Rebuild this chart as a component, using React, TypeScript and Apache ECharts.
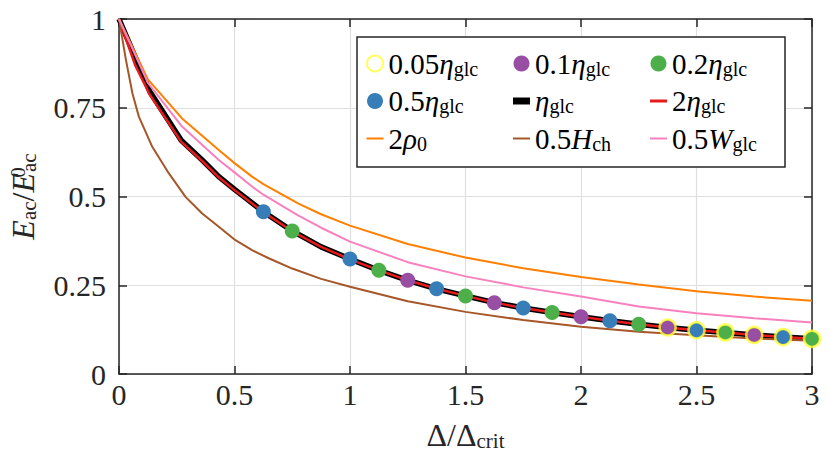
import React, { useEffect, useRef } from "react";
import * as echarts from "echarts";

// ---------- data ----------
const xTicks = { min: 0, max: 3, interval: 0.5 };
const yTicks = { min: 0, max: 1, interval: 0.25 };

const blackX = [0, 0.134, 0.27, 0.36, 0.432, 0.5, 0.625, 0.75, 0.875, 1, 1.125, 1.25, 1.375, 1.5, 1.625, 1.75, 1.875, 2, 2.125, 2.25, 2.375, 2.5, 2.625, 2.75, 2.875, 3];
const blackY = [1, 0.795, 0.658, 0.603, 0.556, 0.52, 0.457, 0.403, 0.358, 0.324, 0.292, 0.264, 0.24, 0.22, 0.201, 0.186, 0.173, 0.161, 0.15, 0.14, 0.131, 0.123, 0.117, 0.11, 0.104, 0.099];

const redX = [0, 0.07, 0.134, 0.27, 0.36, 0.432, 0.5, 0.625, 0.75, 0.875, 1, 1.125, 1.25, 1.375, 1.5, 1.625, 1.75, 1.875, 2, 2.125, 2.25, 2.375, 2.5, 2.625, 2.75, 2.875, 3];
const redY = [1, 0.87, 0.786, 0.654, 0.6, 0.554, 0.518, 0.456, 0.402, 0.358, 0.323, 0.292, 0.264, 0.24, 0.22, 0.201, 0.186, 0.173, 0.161, 0.15, 0.14, 0.131, 0.123, 0.117, 0.11, 0.104, 0.099];

const orangeX = [0, 0.125, 0.273, 0.432, 0.5, 0.576, 0.625, 0.777, 0.875, 1, 1.25, 1.5, 1.75, 2, 2.25, 2.5, 2.75, 3];
const orangeY = [1, 0.83, 0.72, 0.631, 0.594, 0.556, 0.535, 0.48, 0.45, 0.418, 0.366, 0.328, 0.298, 0.273, 0.252, 0.233, 0.218, 0.206];

const pinkX = [0, 0.125, 0.273, 0.432, 0.5, 0.576, 0.625, 0.777, 0.875, 1, 1.25, 1.5, 1.75, 2, 2.25, 2.5, 2.75, 3];
const pinkY = [1, 0.82, 0.697, 0.603, 0.568, 0.528, 0.505, 0.446, 0.412, 0.373, 0.315, 0.275, 0.244, 0.218, 0.19, 0.171, 0.157, 0.145];

const brownX = [0, 0.03, 0.058, 0.086, 0.144, 0.216, 0.288, 0.36, 0.432, 0.504, 0.576, 0.648, 0.75, 0.875, 1, 1.25, 1.5, 1.75, 2, 2.25, 2.5, 2.75, 3];
const brownY = [1, 0.885, 0.791, 0.725, 0.64, 0.565, 0.499, 0.452, 0.415, 0.377, 0.349, 0.326, 0.297, 0.268, 0.246, 0.205, 0.175, 0.152, 0.133, 0.119, 0.109, 0.1, 0.094];

const eta005X = [2.375, 2.5, 2.625, 2.75, 2.875, 3];
const eta005Y = [0.131, 0.123, 0.117, 0.11, 0.104, 0.099];

const eta01X = [1.25, 1.625, 2.0, 2.375, 2.75];
const eta01Y = [0.264, 0.201, 0.161, 0.131, 0.11];

const eta02X = [0.75, 1.125, 1.5, 1.875, 2.25, 2.625, 3.0];
const eta02Y = [0.403, 0.292, 0.22, 0.173, 0.14, 0.117, 0.099];

const eta05X = [0.625, 1.0, 1.375, 1.75, 2.125, 2.5, 2.875];
const eta05Y = [0.457, 0.324, 0.24, 0.186, 0.15, 0.123, 0.104];

const seriesNames = {
  e005: "0.05η_glc",
  e01: "0.1η_glc",
  e02: "0.2η_glc",
  e05: "0.5η_glc",
  e1: "η_glc",
  e2: "2η_glc",
  rho: "2ρ_0",
  h: "0.5H_ch",
  w: "0.5W_glc",
};

const legendLabels: Record<string, string> = {
  "0.05η_glc": "{n|0.05}{i|η}{s|glc}",
  "0.1η_glc": "{n|0.1}{i|η}{s|glc}",
  "0.2η_glc": "{n|0.2}{i|η}{s|glc}",
  "0.5η_glc": "{n|0.5}{i|η}{s|glc}",
  "η_glc": "{i|η}{s|glc}",
  "2η_glc": "{n|2}{i|η}{s|glc}",
  "2ρ_0": "{n|2}{i|ρ}{s|0}",
  "0.5H_ch": "{n|0.5}{i|H}{s|ch}",
  "0.5W_glc": "{n|0.5}{i|W}{s|glc}",
};

// line-legend icon thickness per series (short bars)
const lineIcon = (h: number) => `path://M0 0H17V${h}H0Z`;

const legendColumns = [
  [
    { name: seriesNames.e005 },
    { name: seriesNames.e05 },
    { name: seriesNames.rho, icon: lineIcon(2) },
  ],
  [
    { name: seriesNames.e01 },
    { name: seriesNames.e1, icon: lineIcon(7) },
    { name: seriesNames.h, icon: lineIcon(2) },
  ],
  [
    { name: seriesNames.e02 },
    { name: seriesNames.e2, icon: lineIcon(3) },
    { name: seriesNames.w, icon: lineIcon(2) },
  ],
];

// ---------- styles ----------
const FONT = '"Liberation Serif", "DejaVu Serif", serif';
const AX = "#262626";
const C = {
  yellow: "#ffff33",
  purple: "#984ea3",
  green: "#4daf4a",
  blue: "#377eb8",
  black: "#000000",
  red: "#e41a1c",
  orange: "#ff7f00",
  brown: "#a65628",
  pink: "#f781bf",
};

const zip = (xs: number[], ys: number[]) => xs.map((x, i) => [x, ys[i]]);

const richLegend = {
  n: { fontFamily: FONT, fontSize: 29, lineHeight: 30, color: "#000" },
  i: { fontFamily: FONT, fontSize: 29, fontStyle: "italic", lineHeight: 30, color: "#000" },
  s: { fontFamily: FONT, fontSize: 20, lineHeight: 12, verticalAlign: "bottom", color: "#000" },
};

const richAxisName = {
  n: { fontFamily: FONT, fontSize: 32, lineHeight: 32, color: AX },
  i: { fontFamily: FONT, fontSize: 32, fontStyle: "italic", lineHeight: 32, color: AX },
  s: { fontFamily: FONT, fontSize: 21, lineHeight: 10, verticalAlign: "bottom", color: AX },
  p: { fontFamily: FONT, fontSize: 21, lineHeight: 12, verticalAlign: "top", width: 1, color: AX },
};

function buildOption() {
  const axisCommon = {
    type: "value",
    axisLine: { show: true, onZero: false, lineStyle: { color: AX, width: 1.5 } },
    axisTick: { show: true, inside: true, length: 8, lineStyle: { color: AX, width: 1.5 } },
  };
  const lineSeries = (name: string, xs: number[], ys: number[], color: string, width: number, z: number) => ({
    type: "line",
    name,
    data: zip(xs, ys),
    symbol: "none",
    showSymbol: false,
    lineStyle: { color, width },
    itemStyle: { color },
    z,
    silent: true,
  });
  const scatterSeries = (name: string, xs: number[], ys: number[], color: string) => ({
    type: "scatter",
    name,
    data: zip(xs, ys),
    symbol: "circle",
    symbolSize: 15,
    itemStyle: { color, opacity: 1 },
    z: 5,
    silent: true,
  });

  return {
    animation: false,
    backgroundColor: "#ffffff",
    grid: { left: 119, right: 18, top: 19, bottom: 92, outerBoundsMode: "none" },
    xAxis: [
      {
        ...axisCommon,
        position: "bottom",
        min: xTicks.min,
        max: xTicks.max,
        interval: xTicks.interval,
        axisLabel: { color: AX, fontFamily: FONT, fontSize: 30, margin: 5 },
        splitLine: { show: true, lineStyle: { color: "#dfdfdf", width: 1.2 } },
        name: "{n|Δ/Δ}{s|crit}",
        nameLocation: "middle",
        nameGap: 45,
        nameTextStyle: { rich: richAxisName },
      },
      {
        ...axisCommon,
        position: "top",
        min: xTicks.min,
        max: xTicks.max,
        interval: xTicks.interval,
        axisLabel: { show: false },
        splitLine: { show: false },
      },
    ],
    yAxis: [
      {
        ...axisCommon,
        position: "left",
        min: yTicks.min,
        max: yTicks.max,
        interval: yTicks.interval,
        axisLabel: { color: AX, fontFamily: FONT, fontSize: 30, margin: 13 },
        splitLine: { show: true, lineStyle: { color: "#dfdfdf", width: 1.2 } },
        name: "{i|E}{s|ac}{n|/}{i|E}{p|0}{s|ac}",
        nameLocation: "middle",
        nameGap: 80,
        nameTextStyle: { rich: richAxisName },
      },
      {
        ...axisCommon,
        position: "right",
        min: yTicks.min,
        max: yTicks.max,
        interval: yTicks.interval,
        axisLabel: { show: false },
        splitLine: { show: false },
      },
    ],
    graphic: {
      elements: [
        {
          type: "rect",
          z: 8,
          shape: { x: 357, y: 37, width: 428, height: 130 },
          style: { fill: "#ffffff", stroke: AX, lineWidth: 1.5 },
          silent: true,
        },
      ],
    },
    legend: legendColumns.map((col, k) => ({
      data: col,
      orient: "vertical",
      left: [366, 513, 650][k],
      top: 49,
      padding: 0,
      itemGap: 8,
      itemWidth: 17,
      itemHeight: 16,
      selectedMode: false,
      z: 10,
      formatter: (name: string) => legendLabels[name] || name,
      textStyle: { rich: richLegend, fontFamily: FONT, fontSize: 29 },
    })),
    series: [
      lineSeries(seriesNames.e1, blackX, blackY, C.black, 5.5, 2),
      lineSeries(seriesNames.e2, redX, redY, C.red, 2.5, 3),
      lineSeries(seriesNames.rho, orangeX, orangeY, C.orange, 2, 3),
      lineSeries(seriesNames.h, brownX, brownY, C.brown, 2, 3),
      lineSeries(seriesNames.w, pinkX, pinkY, C.pink, 2, 3),
      scatterSeries(seriesNames.e05, eta05X, eta05Y, C.blue),
      scatterSeries(seriesNames.e02, eta02X, eta02Y, C.green),
      scatterSeries(seriesNames.e01, eta01X, eta01Y, C.purple),
      {
        type: "scatter",
        name: seriesNames.e005,
        data: zip(eta005X, eta005Y),
        symbol: "circle",
        symbolSize: 16,
        itemStyle: { color: "rgba(255,255,255,0)", borderColor: C.yellow, borderWidth: 2.5 },
        z: 6,
        silent: true,
      },
    ],
  };
}

export default function App() {
  const ref = useRef<HTMLDivElement>(null);
  useEffect(() => {
    document.body.style.margin = "0";
    if (!ref.current) return;
    const chart = echarts.init(ref.current, undefined, { renderer: "svg" });
    chart.setOption(buildOption() as any);
    return () => chart.dispose();
  }, []);
  return (
    <div
      ref={ref}
      style={{ position: "absolute", left: 0, top: 0, width: 830, height: 466 }}
    />
  );
}
